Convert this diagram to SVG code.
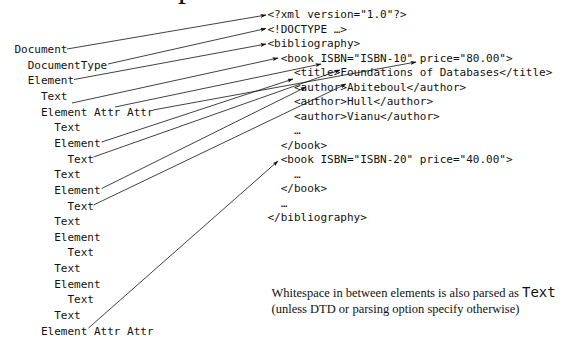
<svg xmlns="http://www.w3.org/2000/svg" width="569" height="339" viewBox="0 0 569 339">
<style>
.m{font-family:"DejaVu Sans Mono","Liberation Mono",monospace;font-size:11px;fill:#111;}
.s{font-family:"Liberation Serif","DejaVu Serif",serif;font-size:12.5px;fill:#111;}
.c line{stroke:#111;stroke-width:0.8;fill:none;marker-end:url(#ah);}
</style>
<defs>
<marker id="ah" markerWidth="6" markerHeight="4" refX="5.5" refY="2" orient="auto" markerUnits="userSpaceOnUse">
<path d="M0,0 L6,2 L0,4 L1.3,2 z" fill="#111"/>
</marker>
</defs>
<rect width="569" height="339" fill="#ffffff"/>
<text x="178" y="-3" font-family="Liberation Serif" font-size="32" fill="#111">p</text>

<g id="tree">
<g id="t0"><text class="m" x="14.5" y="53">Document</text></g>
<g id="t1"><text class="m" x="27.75" y="68.65">DocumentType</text></g>
<g id="t2"><text class="m" x="27.75" y="84.3">Element</text></g>
<g id="t3"><text class="m" x="41" y="99.95">Text</text></g>
<g id="t4"><text class="m" x="41" y="115.6">Element Attr Attr</text></g>
<g id="t5"><text class="m" x="54.25" y="131.25">Text</text></g>
<g id="t6"><text class="m" x="54.25" y="146.9">Element</text></g>
<g id="t7"><text class="m" x="67.5" y="162.55">Text</text></g>
<g id="t8"><text class="m" x="54.25" y="178.2">Text</text></g>
<g id="t9"><text class="m" x="54.25" y="193.85">Element</text></g>
<g id="t10"><text class="m" x="67.5" y="209.5">Text</text></g>
<g id="t11"><text class="m" x="54.25" y="225.15">Text</text></g>
<g id="t12"><text class="m" x="54.25" y="240.8">Element</text></g>
<g id="t13"><text class="m" x="67.5" y="256.45">Text</text></g>
<g id="t14"><text class="m" x="54.25" y="272.1">Text</text></g>
<g id="t15"><text class="m" x="54.25" y="287.75">Element</text></g>
<g id="t16"><text class="m" x="67.5" y="303.4">Text</text></g>
<g id="t17"><text class="m" x="54.25" y="319.05">Text</text></g>
<g id="t18"><text class="m" x="41" y="334.7">Element Attr Attr</text></g>
</g>

<g id="xml">
<g id="x0"><text class="m" x="267.5" y="18">&lt;?xml version="1.0"?&gt;</text></g>
<g id="x1"><text class="m" x="267.5" y="32.5">&lt;!DOCTYPE …&gt;</text></g>
<g id="x2"><text class="m" x="267.5" y="47">&lt;bibliography&gt;</text></g>
<g id="x3"><text class="m" x="280.75" y="61.5">&lt;book ISBN="ISBN-10" price="80.00"&gt;</text></g>
<g id="x4"><text class="m" x="294" y="76">&lt;title&gt;Foundations of Databases&lt;/title&gt;</text></g>
<g id="x5"><text class="m" x="294" y="90.5">&lt;author&gt;Abiteboul&lt;/author&gt;</text></g>
<g id="x6"><text class="m" x="294" y="105">&lt;author&gt;Hull&lt;/author&gt;</text></g>
<g id="x7"><text class="m" x="294" y="119.5">&lt;author&gt;Vianu&lt;/author&gt;</text></g>
<g id="x8"><text class="m" x="294" y="134">…</text></g>
<g id="x9"><text class="m" x="280.75" y="148.5">&lt;/book&gt;</text></g>
<g id="x10"><text class="m" x="280.75" y="163">&lt;book ISBN="ISBN-20" price="40.00"&gt;</text></g>
<g id="x11"><text class="m" x="294" y="177.5">…</text></g>
<g id="x12"><text class="m" x="280.75" y="192">&lt;/book&gt;</text></g>
<g id="x13"><text class="m" x="280.75" y="206.5">…</text></g>
<g id="x14"><text class="m" x="267.5" y="221">&lt;/bibliography&gt;</text></g>
</g>

<g id="note">
<text class="s" x="271.5" y="297">Whitespace in between elements is also parsed as <tspan x="522" font-family="DejaVu Sans Mono, monospace" font-size="14">Text</tspan></text>
<text class="s" x="271.5" y="313">(unless DTD or parsing option specify otherwise)</text>
</g>

<g id="connectors" class="c">
<line x1="67" y1="49" x2="266" y2="15"/>
<line x1="108" y1="64" x2="266" y2="28.5"/>
<line x1="74" y1="79.5" x2="266" y2="44"/>
<line x1="72" y1="103" x2="278" y2="58"/>
<line x1="115" y1="107" x2="321" y2="64"/>
<line x1="153" y1="110" x2="416" y2="62"/>
<line x1="101.7" y1="142" x2="293" y2="79"/>
<line x1="93.5" y1="157" x2="340" y2="70"/>
<line x1="101.7" y1="188.5" x2="306" y2="87"/>
<line x1="93.5" y1="205" x2="346" y2="84"/>
<line x1="88.5" y1="328" x2="278" y2="161"/>
</g>
</svg>
